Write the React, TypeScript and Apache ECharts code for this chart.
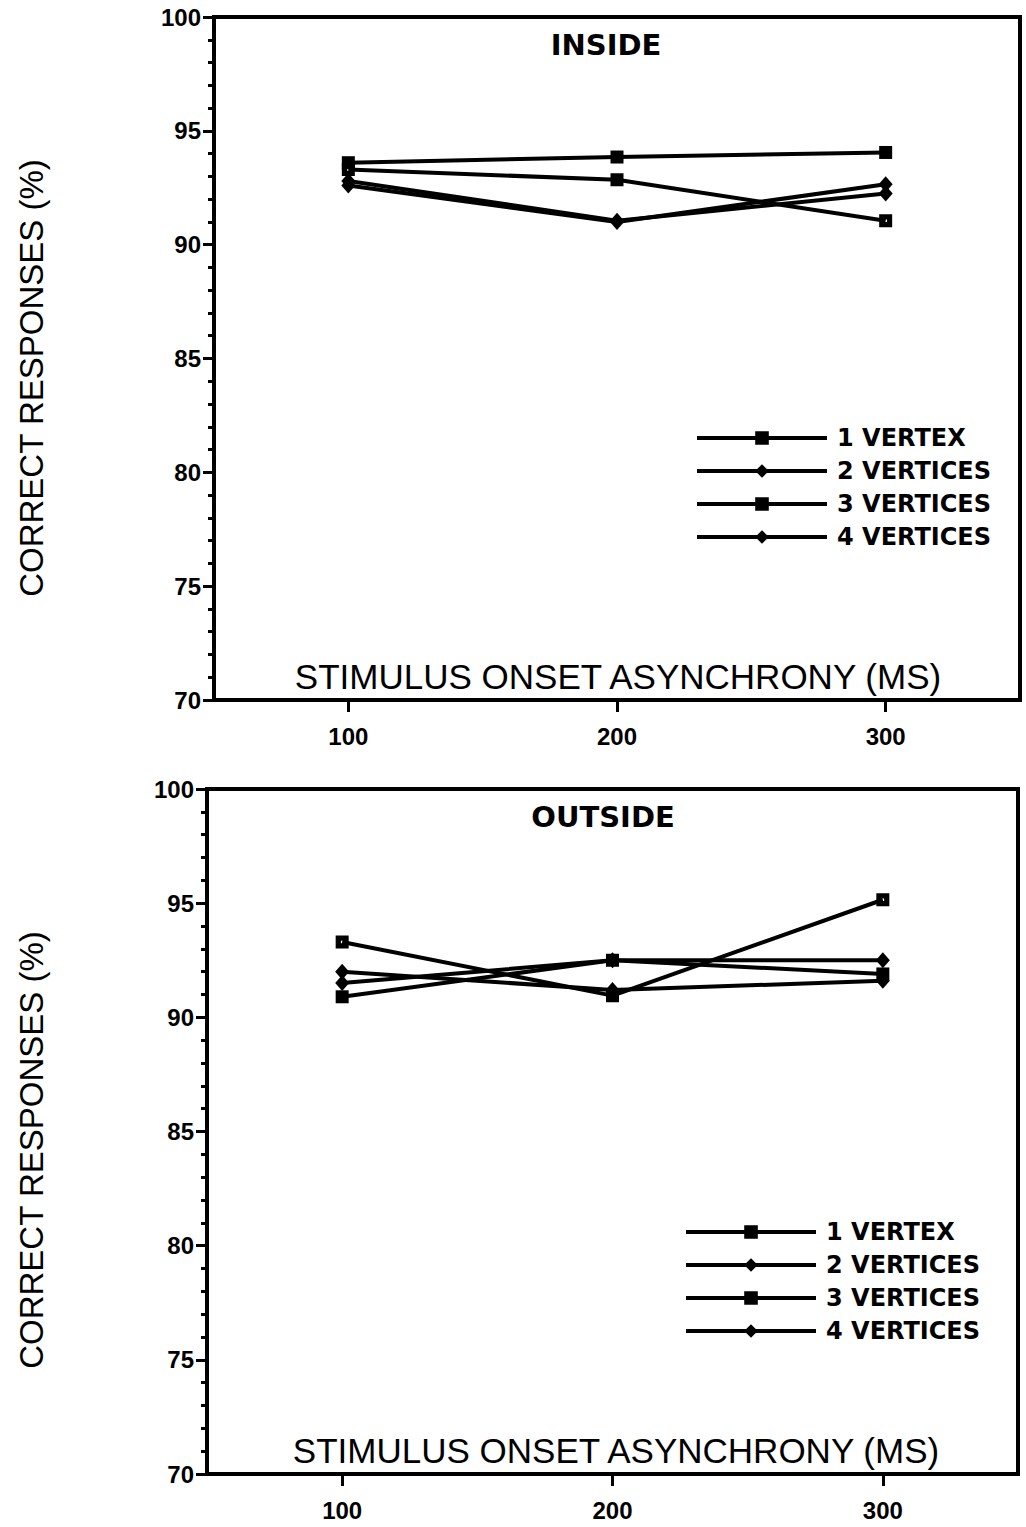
import React, { useEffect, useRef } from "react";
import * as echarts from "echarts";

const seriesNames = ["1 VERTEX", "2 VERTICES", "3 VERTICES", "4 VERTICES"];
const soaValues = [100, 200, 300];
const xTickValues = [100, 200, 300];

const insideV1 = [93.3, 92.85, 91.05];
const insideV2 = [92.8, 91.05, 92.25];
const insideV3 = [93.6, 93.85, 94.05];
const insideV4 = [92.6, 91.0, 92.65];

const outsideV1 = [93.3, 90.95, 95.15];
const outsideV2 = [92.0, 91.2, 91.6];
const outsideV3 = [90.9, 92.5, 91.9];
const outsideV4 = [91.5, 92.5, 92.5];

const panelTitles = ["INSIDE", "OUTSIDE"];
const xAxisTitle = "STIMULUS ONSET ASYNCHRONY (MS)";
const yAxisTitle = "CORRECT RESPONSES (%)";

const openSquare = "path://M0,0H10V10H0Z M4,4V6H6V4Z";
const symbols: any[] = [openSquare, "diamond", "rect", "diamond"];
const symbolSizes: any[] = [13, [14, 16], 13, [14, 16]];

export default function App() {
  const ref = useRef<HTMLDivElement>(null);
  useEffect(() => {
    document.body.style.margin = "0";
    const chart = echarts.init(ref.current!, null, { renderer: "svg" });
    const panels = [
      [insideV1, insideV2, insideV3, insideV4],
      [outsideV1, outsideV2, outsideV3, outsideV4],
    ];
    const tickFont = {
      fontFamily: "Liberation Sans",
      fontWeight: "bold" as const,
      fontSize: 24,
      color: "#000",
    };
    const makeX = (gi: number) => ({
      type: "value",
      gridIndex: gi,
      min: 50,
      max: 350,
      splitLine: { show: false },
      axisLine: { lineStyle: { color: "#000", width: 4 } },
      axisTick: { customValues: xTickValues, length: 12, lineStyle: { color: "#000", width: 3 } },
      axisLabel: { customValues: xTickValues, margin: 24, ...tickFont },
    });
    const makeY = (gi: number) => ({
      type: "value",
      gridIndex: gi,
      min: 70,
      max: 100,
      interval: 5,
      splitLine: { show: false },
      axisLine: { show: true, lineStyle: { color: "#000", width: 4 } },
      axisTick: { show: true, length: 11, lineStyle: { color: "#000", width: 3 } },
      minorTick: { show: true, splitNumber: 5, length: 6, lineStyle: { color: "#000", width: 3 } },
      axisLabel: { margin: 13, ...tickFont },
    });
    const series: any[] = [];
    panels.forEach((vals, gi) => {
      vals.forEach((arr, si) => {
        series.push({
          type: "line",
          name: seriesNames[si],
          xAxisIndex: gi,
          yAxisIndex: gi,
          data: soaValues.map((x, i) => [x, arr[i]]),
          symbol: symbols[si],
          symbolSize: symbolSizes[si],
          showSymbol: true,
          lineStyle: { color: "#000", width: 4 },
          itemStyle: { color: "#000", borderWidth: 0 },
          emphasis: { disabled: true },
        });
      });
    });
    const legendBase = {
      orient: "vertical",
      padding: 0,
      itemWidth: 130,
      itemHeight: 17,
      itemGap: 9,
      selectedMode: false,
      data: seriesNames,
      lineStyle: { color: "#000", width: 4 },
      itemStyle: { color: "#000", borderWidth: 0 },
      textStyle: {
        fontFamily: "DejaVu Sans",
        fontWeight: "bold",
        fontSize: 24,
        lineHeight: 24,
        color: "#000",
        padding: [0, 0, 0, 5],
      },
    };
    const txt = (text: string, x: number, y: number, size: number, family: string, weight: string, rot = 0) => ({
      type: "text",
      x,
      y,
      rotation: rot,
      style: {
        text,
        fill: "#000",
        fontSize: size,
        fontFamily: family,
        fontWeight: weight,
        align: "center",
        verticalAlign: "middle",
      },
    });
    chart.setOption({
      animation: false,
      backgroundColor: "#fff",
      textStyle: { fontFamily: "Liberation Sans" },
      grid: [
        { left: 214, top: 17, width: 806, height: 683, show: true, borderColor: "#000", borderWidth: 4 },
        { left: 207, top: 789, width: 811, height: 685, show: true, borderColor: "#000", borderWidth: 4 },
      ],
      xAxis: [makeX(0), makeX(1)],
      yAxis: [makeY(0), makeY(1)],
      legend: [
        { ...legendBase, left: 695, top: 426 },
        { ...legendBase, left: 684, top: 1220 },
      ],
      graphic: [
        txt(panelTitles[0], 606, 45, 29, "DejaVu Sans", "bold"),
        txt(panelTitles[1], 603, 817, 29, "DejaVu Sans", "bold"),
        txt(xAxisTitle, 618, 676, 35, "Liberation Sans", "normal"),
        txt(xAxisTitle, 616, 1450, 35, "Liberation Sans", "normal"),
        txt(yAxisTitle, 31, 378, 33, "Liberation Sans", "normal", Math.PI / 2),
        txt(yAxisTitle, 31, 1150, 33, "Liberation Sans", "normal", Math.PI / 2),
      ],
      series,
    });
    return () => chart.dispose();
  }, []);
  return <div ref={ref} style={{ width: 1026, height: 1527 }} />;
}
